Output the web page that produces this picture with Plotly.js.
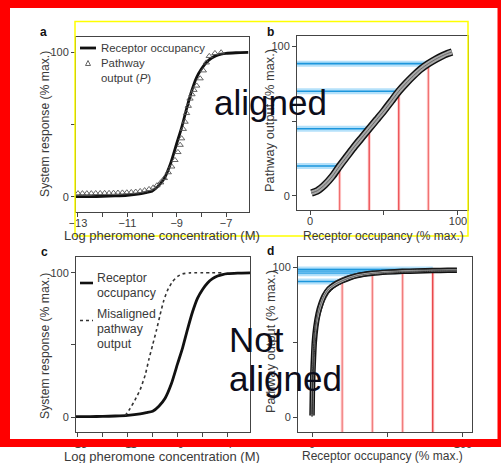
<!DOCTYPE html>
<html><head><meta charset="utf-8">
<script src="https://cdn.plot.ly/plotly-3.0.1.min.js"></script>
<style>html,body{margin:0;padding:0;background:#fff;overflow:hidden}#chart{width:501px;height:463px}</style>
</head><body><div id="chart"></div>
<script>
// ---------------- data ----------------
// Panel a
const aLogConc  = [-13.1,-12.5,-12,-11.5,-11,-10.5,-10.25,-10,-9.75,-9.5,-9.25,-9,-8.8,-8.6,-8.4,-8.2,-8,-7.8,-7.6,-7.4,-7.2,-7,-6.6,-6.1];
const aReceptor = [0.2,0.3,0.4,0.7,1.2,2.2,3,4,7.5,13,23,37,48,61,73,82.5,88.5,93,96,97.8,98.8,99.4,99.8,100];
const aTriLogConc = [-13,-12.82,-12.64,-12.46,-12.28,-12.1,-11.92,-11.74,-11.56,-11.38,-11.2,-11.02,-10.84,-10.66,-10.48,-10.3,-10.12,-9.95,-9.8,-9.65,-9.5,-9.34,-9.2,-9.07,-8.95,-8.86,-8.8,-8.73,-8.66,-8.6,-8.53,-8.46,-8.38,-8.3,-8.19,-8.05,-7.92,-7.8,-7.68,-7.45,-7.2];
const aPathway    = [2.5,2.5,2.5,2.5,2.6,2.6,2.7,2.7,2.8,2.9,3,3.1,3.3,3.6,4,4.6,5.4,6.5,8,10,13,17,21,25.5,31,36,40.5,47,52,58,63,68,71,74,77,82,87.5,93,97.5,99.5,100];
// Panel b
const bOccupancy = [1,5,10,15,20,25,30,35,40,45,50,55,60,65,70,75,80,85,90,93,96];
const bOutput    = [2,3.5,7.5,13,20,26.5,33,39,45,51,57,63.5,70,75.5,80.5,85,88.5,91.5,94,95.3,96.3];
const bMarkOcc   = [20,40,60,80];
const bMarkOut   = [20,45,70,88.5];
// Panel c
const cLogConc  = [-13.1,-12.5,-12,-11.5,-11,-10.5,-10.25,-10,-9.75,-9.5,-9.25,-9,-8.8,-8.6,-8.4,-8.2,-8,-7.8,-7.6,-7.4,-7.2,-7,-6.6,-6.1];
const cReceptor = [0.2,0.3,0.4,0.7,1.2,2.2,3,4,7.5,13,23,37,48,61,73,82.5,88.5,93,96,97.8,98.8,99.4,99.8,100];
const cMisLogConc = [-11.1,-10.9,-10.7,-10.5,-10.3,-10.15,-10,-9.85,-9.7,-9.55,-9.4,-9.2,-9,-8.8,-8.5,-7.2];
const cMisaligned = [1,6,12,19,29,40,50,60,71,81,88,94,97.5,99.3,100,100];
// Panel d
const dOccupancy = [0,0.2,0.5,1,1.5,2.5,4,6,8,11,15,20,25,30,40,50,60,70,80,90,96];
const dOutputHi  = [2,22,35,47,56,65,73,79,83.5,87.5,90.5,93,94.8,96,97.3,98,98.4,98.7,98.9,99,99];
const dOutputMid = [1,15,28,40,50,60,69,76,81,85.5,88.5,91,93,94.5,96,96.8,97.3,97.6,97.8,98,98];
const dOutputLo  = [0,8,20,32,42,53,63,71,77,82.5,86.5,89.5,91.8,93.3,95,96,96.6,97,97.3,97.5,97.5];
const dMarkOcc   = [20,40,60,80];
const dMarkOut   = [90.5,96,97.3,98.5];
// ticks
const logTickVals = [-13,-12,-11,-10,-9,-8,-7];
const logTickText = ['\u221213','','\u221211','','\u22129','','\u22127'];
const pctTickVals = [0,50,100];
const pctTickText = ['0','','100'];

// ---------------- layout helpers ----------------
const W = 501, H = 463;
const PX = v => v / W, PY = v => 1 - v / H;
const FONT = 'Liberation Sans, Arial, Helvetica, sans-serif';
const TXT = '#3a3a3a';

const panels = {
  a: {x0:76,  x1:249, y0:37,  y1:212, xr:[-13.08,-6.07], yr:[-10.4,110.7], log:true,  so:-3},
  b: {x0:297, x1:468, y0:36,  y1:210, xr:[-8.8,106.8],   yr:[-9.4,107],    log:false, so:-3},
  c: {x0:76,  x1:250, y0:257, y1:432, xr:[-13.07,-6.1],  yr:[-10.4,111],   log:true,  so:-2},
  d: {x0:298, x1:472, y0:257, y1:432, xr:[-9.3,106],     yr:[-10,106.9],   log:false, so:-2}
};
const order = ['a','b','c','d'];

const layout = {
  width: W, height: H, margin:{l:0,r:0,t:0,b:0},
  paper_bgcolor:'#fff', plot_bgcolor:'#fff', showlegend:false,
  font:{family:FONT, color:TXT},
  shapes:[], annotations:[]
};

order.forEach((k,i) => {
  const p = panels[k];
  const n = i + 1, sfx = n === 1 ? '' : String(n);
  const xd = [PX(p.x0), PX(p.x1)], yd = [PY(p.y1), PY(p.y0)];
  const tv = p.log ? logTickVals : pctTickVals, tt = p.log ? logTickText : pctTickText;
  const base = {showline:true, linecolor:'#444', linewidth:1, mirror:true, ticks:'outside',
    ticklen:4, tickwidth:1, tickcolor:'#444', showgrid:false, zeroline:false, fixedrange:true,
    tickfont:{family:FONT, size:11, color:TXT}};
  layout['xaxis'+sfx] = Object.assign({}, base, {domain:xd, range:p.xr, anchor:'y'+sfx,
    tickmode:'array', tickvals:tv, ticktext:tt, ticklabelstandoff:p.so});
  layout['yaxis'+sfx] = Object.assign({}, base, {domain:yd, range:p.yr, anchor:'x'+sfx,
    tickmode:'array', tickvals:pctTickVals, ticktext:pctTickText});
  // inside mirror ticks on top / right
  const m = n + 4;
  layout['xaxis'+m] = {overlaying:'x'+sfx, anchor:'y'+sfx, side:'top', range:p.xr,
    tickmode:'array', tickvals:tv, ticks:'inside', ticklen:3, tickcolor:'#444',
    showticklabels:false, showline:false, showgrid:false, zeroline:false, fixedrange:true};
  layout['yaxis'+m] = {overlaying:'y'+sfx, anchor:'x'+sfx, side:'right', range:p.yr,
    tickmode:'array', tickvals:pctTickVals, ticks:'inside', ticklen:3, tickcolor:'#444',
    showticklabels:false, showline:false, showgrid:false, zeroline:false, fixedrange:true};
});

// ---------------- traces ----------------
const traces = [];
const line = (x, y, ax, color, width, extra) => Object.assign({
  type:'scatter', mode:'lines', x, y, xaxis:'x'+ax, yaxis:'y'+ax,
  line:{color, width, shape:'spline', smoothing:0.6}, hoverinfo:'skip'}, extra || {});

// a
traces.push(line(aLogConc, aReceptor, '', '#111', 2.8));
traces.push({type:'scatter', mode:'markers', x:aTriLogConc, y:aPathway, xaxis:'x', yaxis:'y',
  marker:{symbol:'triangle-up-open', size:5.5, color:'#555', line:{width:0.9, color:'#555'}}, hoverinfo:'skip'});

// b, d guide lines
function guides(occ, out, ax, p, redColors) {
  occ.forEach((o, i) => {
    const yv = out[i];
    traces.push(line([p.xr[0], o], [yv, yv], ax, '', 0, {line:{color:'rgba(120,200,245,0.55)', width:6}}));
    traces.push(line([p.xr[0], o], [yv, yv], ax, '', 0, {line:{color:'#1c96dc', width:1.6}}));
    traces.push(line([o, o], [p.yr[0], yv], ax, '', 0, {line:{color:'rgba(255,140,140,0.45)', width:3}}));
    traces.push(line([o, o], [p.yr[0], yv], ax, '', 0, {line:{color:redColors[i], width:1.1}}));
  });
}
guides(bMarkOcc, bMarkOut, '2', panels.b, ['#f06a6a','#e8383d','#e8383d','#f06a6a']);
traces.push(line(bOccupancy, bOutput, '2', '#111', 7.5));
traces.push(line(bOccupancy, bOutput, '2', '#a8a8a8', 4.5));
traces.push(line(bOccupancy, bOutput, '2', '#555', 0.8));

// c
traces.push(line(cLogConc, cReceptor, '3', '#111', 2.8));
traces.push(line(cMisLogConc, cMisaligned, '3', '', 0, {line:{color:'#333', width:1.6, dash:'3px,3px', shape:'spline', smoothing:0.6}}));

// d
guides(dMarkOcc, dMarkOut, '4', panels.d, ['#f07a7a','#f07a7a','#f07a7a','#e3262b']);
traces.push(line(dOccupancy, dOutputMid, '4', '#111', 5.5));
traces.push(line(dOccupancy, dOutputMid, '4', '#b0b0b0', 2.6));
traces.push(line(dOccupancy, dOutputHi, '4', '#222', 0.9));
traces.push(line(dOccupancy, dOutputLo, '4', '#222', 0.9));
traces.push(line(dOccupancy, dOutputMid, '4', '#333', 0.6));

// ---------------- text ----------------
const ann = (text, x, y, size, opts) => layout.annotations.push(Object.assign({
  text, x:PX(x), y:PY(y), xref:'paper', yref:'paper', showarrow:false,
  xanchor:'center', yanchor:'middle', font:{family:FONT, size, color:TXT}}, opts || {}));

// panel letters
const LET = {family:FONT, size:12, color:'#111'};
ann('<b>a</b>', 43, 32, 12, {font:LET});
ann('<b>b</b>', 270, 32, 12, {font:LET});
ann('<b>c</b>', 44, 252, 12, {font:LET});
ann('<b>d</b>', 270, 251, 12, {font:LET});
// axis titles
ann('System response (% max.)', 45, 124, 12.2, {textangle:-90});
ann('Pathway output (% max.)', 270, 121, 12.8, {textangle:-90});
ann('System response (% max.)', 45, 346, 12.2, {textangle:-90});
ann('Pathway output (% max.)', 270, 342, 12.8, {textangle:-90});
ann('Log pheromone concentration (M)', 162, 235.5, 13);
ann('Receptor occupancy (% max.)', 383, 235.5, 12);
ann('Log pheromone concentration (M)', 162, 456, 13);
ann('Receptor occupancy (% max.)', 382, 456, 12);
// legends
ann('Receptor occupancy', 99, 48, 11.4, {xanchor:'left'});
ann('Pathway', 99, 63, 11.4, {xanchor:'left'});
ann('output (<i>P</i>)', 99, 78, 11.4, {xanchor:'left'});
ann('Receptor', 95, 278, 12.3, {xanchor:'left'});
ann('occupancy', 95, 293, 12.3, {xanchor:'left'});
ann('Misaligned', 95, 314, 12.3, {xanchor:'left'});
ann('pathway', 95, 329, 12.3, {xanchor:'left'});
ann('output', 95, 344, 12.3, {xanchor:'left'});
// big overlay words
const BIG = {family:FONT, size:35, color:'#0d0d1a'};
ann('aligned', 270, 103, 35, {font:BIG});
ann('Not', 227, 339, 35, {xanchor:'left', font:BIG});
ann('aligned', 227, 378, 35, {xanchor:'left', font:BIG});

// ---------------- shapes ----------------
const S = layout.shapes;
const paperLine = (x0,y0,x1,y1,color,width,dash) => S.push({type:'line', xref:'paper', yref:'paper',
  x0:PX(x0), y0:PY(y0), x1:PX(x1), y1:PY(y1), line:{color, width, dash:dash||'solid'}, layer:'above'});
const paperRect = (x0,y0,x1,y1,fill) => S.push({type:'rect', xref:'paper', yref:'paper',
  x0:PX(x0), y0:PY(y0), x1:PX(x1), y1:PY(y1), fillcolor:fill, line:{width:0}, layer:'above'});
// legend symbols
paperLine(80, 48, 96, 48, '#111', 2.8);
S.push({type:'path', xref:'paper', yref:'paper', layer:'above',
  path:`M ${PX(85.5)} ${PY(65.5)} L ${PX(90.5)} ${PY(65.5)} L ${PX(88)} ${PY(60.5)} Z`,
  line:{color:'#555', width:0.9}, fillcolor:'rgba(0,0,0,0)'});
paperLine(80, 283, 93, 283, '#111', 2.6);
paperLine(80, 320.5, 93, 320.5, '#333', 1.6, '3px,3px');
// yellow frame
S.push({type:'rect', xref:'paper', yref:'paper', layer:'above', x0:PX(75), y0:PY(236), x1:PX(468), y1:PY(21.5),
  line:{color:'#ffff00', width:1.5}, fillcolor:'rgba(0,0,0,0)'});
// red frame
paperRect(0, 0, 501, 8, '#ff0000');
paperRect(0, 0, 10, 447, '#ff0000');
paperRect(0, 439, 501, 447, '#ff0000');
paperRect(497.5, 0, 501, 447, '#ff0000');

Plotly.newPlot('chart', traces, layout, {displayModeBar:false, staticPlot:true});
</script></body></html>
